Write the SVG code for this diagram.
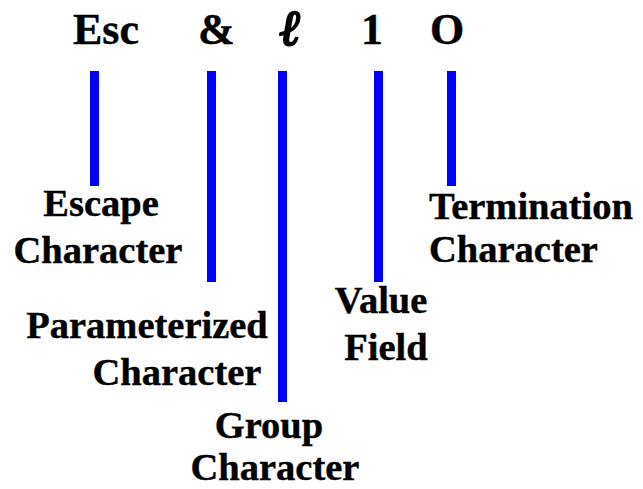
<svg xmlns="http://www.w3.org/2000/svg" width="643" height="489" viewBox="0 0 643 489">
  <style>
    .head { font-family: "Liberation Serif", "Times New Roman", serif; font-weight: bold; font-size: 44px; fill: #000; stroke: #000; stroke-width: 0.4px; }
    .ell { font-family: "Liberation Serif", "DejaVu Serif", serif; font-style: italic; font-size: 50px; fill: #000; stroke: #000; stroke-width: 2.2px; stroke-linejoin: round; }
    .lbl { font-family: "Liberation Serif", "Times New Roman", serif; font-weight: bold; font-size: 38.5px; fill: #000; stroke: #000; stroke-width: 0.4px; text-anchor: middle; }
    .lbl.left { text-anchor: start; }
    .bar { fill: #0000ff; }
  </style>
  <rect width="643" height="489" fill="#fff"/>

  <!-- command string -->
  <g id="command">
    <text class="head" x="73" y="44">Esc</text>
    <text class="head" x="198" y="44">&amp;</text>
    <text class="ell" x="279" y="45">ℓ</text>
    <text class="head" x="361" y="44">1</text>
    <text class="head" x="430" y="44">O</text>
  </g>

  <!-- pointer bars -->
  <g id="connectors">
    <rect class="bar" x="90" y="71" width="9" height="115"/>
    <rect class="bar" x="207" y="71" width="9" height="211"/>
    <rect class="bar" x="278" y="71" width="9" height="331"/>
    <rect class="bar" x="374" y="71" width="9" height="211"/>
    <rect class="bar" x="447" y="71" width="9" height="115"/>
  </g>

  <g id="escape">
    <text class="lbl" x="101" y="216">Escape</text>
    <text class="lbl" x="98" y="263">Character</text>
  </g>
  <g id="parameterized">
    <text class="lbl" x="147" y="338">Parameterized</text>
    <text class="lbl" x="177" y="385">Character</text>
  </g>
  <g id="group">
    <text class="lbl" x="269" y="438">Group</text>
    <text class="lbl" x="275" y="480">Character</text>
  </g>
  <g id="value">
    <text class="lbl" x="381" y="313">Value</text>
    <text class="lbl" x="386" y="360">Field</text>
  </g>
  <g id="termination">
    <text class="lbl left" x="429" y="219">Termination</text>
    <text class="lbl left" x="429" y="262">Character</text>
  </g>
</svg>
